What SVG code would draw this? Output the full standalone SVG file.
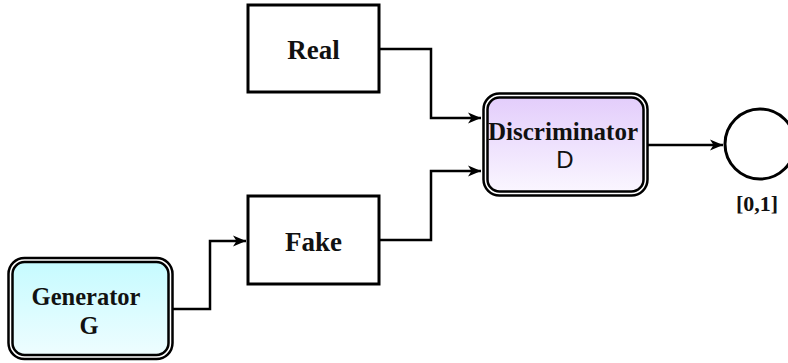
<svg xmlns="http://www.w3.org/2000/svg" width="788" height="363" viewBox="0 0 788 363">
<defs>
<linearGradient id="gCyan" x1="0" y1="0" x2="0" y2="1"><stop offset="0" stop-color="#c6fbff"/><stop offset="1" stop-color="#eefdff"/></linearGradient>
<linearGradient id="gPurp" x1="0" y1="0" x2="0" y2="1"><stop offset="0" stop-color="#e3cdfb"/><stop offset="1" stop-color="#faf6ff"/></linearGradient>
<marker id="arr" markerWidth="14" markerHeight="14" viewBox="0 0 14 14" refX="13" refY="7" orient="auto" markerUnits="userSpaceOnUse">
<path d="M0,1.5 L13,7 L0,12.5 L3.5,7 Z" fill="#000"/>
</marker>
<style>
.box{fill:#fff;stroke:#000;stroke-width:3}
.outer{fill:#fff;stroke:#000;stroke-width:2.5}
.inner{stroke:#000;stroke-width:2.5}
.t{font-family:"Liberation Serif",serif;font-weight:bold;fill:#111;text-anchor:middle}
.s{font-family:"Liberation Sans",sans-serif;fill:#111;text-anchor:middle}
.c{fill:none;stroke:#000;stroke-width:2.5}
</style>
</defs>
<g id="connectors">
<path class="c" d="M379,49 H431 V118 H481" marker-end="url(#arr)"/>
<path class="c" d="M379,240 H431 V171 H481" marker-end="url(#arr)"/>
<path class="c" d="M172,309 H210 V241 H246" marker-end="url(#arr)"/>
<path class="c" d="M648,145 H723" marker-end="url(#arr)"/>
</g>
<g id="real">
<rect class="box" x="248" y="5" width="131" height="87"/>
<text class="t" x="313.5" y="59" font-size="27">Real</text>
</g>
<g id="fake">
<rect class="box" x="248" y="196" width="131" height="88"/>
<text class="t" x="313.5" y="251" font-size="27">Fake</text>
</g>
<g id="generator">
<rect class="outer" x="8.5" y="258" width="164" height="101" rx="16"/>
<rect class="inner" x="12.5" y="262" width="156" height="93" rx="12" fill="url(#gCyan)"/>
<text class="t" x="86" y="305" font-size="24.5">Generator</text>
<text class="t" x="89" y="334" font-size="24.5">G</text>
</g>
<g id="discriminator">
<rect class="outer" x="483.5" y="93.5" width="164" height="102" rx="16"/>
<rect class="inner" x="487.5" y="97.5" width="156" height="94" rx="12" fill="url(#gPurp)"/>
<text class="t" x="563" y="140" font-size="25">Discriminator</text>
<text class="s" x="565" y="168" font-size="24">D</text>
</g>
<g id="output">
<circle cx="760" cy="144" r="35" fill="#fff" stroke="#000" stroke-width="3"/>
<text class="t" x="757" y="211" font-size="22">[0,1]</text>
</g>
</svg>
